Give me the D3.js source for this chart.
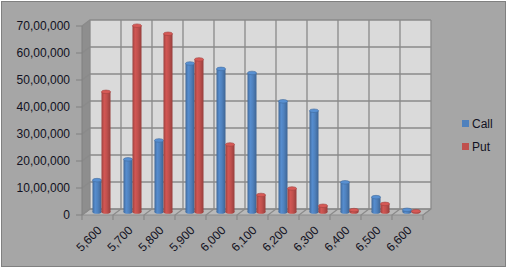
<!DOCTYPE html>
<html>
<head>
<meta charset="utf-8">
<script src="https://cdn.jsdelivr.net/npm/d3@7"></script>
<style>
  body { margin: 0; background: #ffffff; }
  svg text { font-family: "Liberation Sans", Arial, sans-serif; }
</style>
</head>
<body>
<div id="chart"></div>
<script>
// strike prices and open interest
const strikes = ["5,600", "5,700", "5,800", "5,900", "6,000", "6,100", "6,200", "6,300", "6,400", "6,500", "6,600"];
const callOI = [1180000, 1950000, 2650000, 5500000, 5300000, 5150000, 4100000, 3750000, 1100000, 550000, 80000];
const putOI = [4450000, 6900000, 6600000, 5650000, 2500000, 630000, 870000, 230000, 70000, 300000, 30000];
const seriesNames = ["Call", "Put"];
const seriesColors = ["#4f81bd", "#c0504d"];
const yTicks = [0, 1000000, 2000000, 3000000, 4000000, 5000000, 6000000, 7000000];

const width = 511, height = 270;
// 3D depth offset of back wall
const depthX = 8, depthY = -6;

// Indisk talformat: 70,00,000
function formatIN(n) {
    let s = String(Math.round(n));
    if (s.length <= 3) return s;
    let last3 = s.slice(-3);
    let rest = s.slice(0, -3);
    rest = rest.replace(/\B(?=(\d{2})+(?!\d))/g, ",");
    return rest + "," + last3;
}

const svg = d3.select("#chart")
    .append("svg")
    .attr("width", width)
    .attr("height", height);

svg.append("rect")
    .attr("x", 1.5).attr("y", 1.5)
    .attr("width", 504).attr("height", 265)
    .attr("fill", "#a6a6a6")
    .attr("stroke", "#808080");

const xScale = d3.scaleBand()
    .domain(strikes)
    .range([82, 423]);

const yScale = d3.scaleLinear()
    .domain([0, 7000000])
    .range([215, 26]);

const xInner = d3.scaleBand()
    .domain(seriesNames)
    .range([6.5, 24.5]);

const x0 = xScale.range()[0], x1 = xScale.range()[1];
const yBottom = yScale(0), yTop = yScale(7000000);

// gradients for cylinders
const defs = svg.append("defs");
seriesColors.forEach(function (c, i) {
    const g = defs.append("linearGradient")
        .attr("id", "cyl" + i)
        .attr("x1", "0").attr("x2", "1").attr("y1", "0").attr("y2", "0");
    const base = d3.color(c);
    g.append("stop").attr("offset", "0%").attr("stop-color", base.darker(0.6));
    g.append("stop").attr("offset", "30%").attr("stop-color", base.brighter(0.25));
    g.append("stop").attr("offset", "60%").attr("stop-color", base);
    g.append("stop").attr("offset", "100%").attr("stop-color", base.darker(0.7));
});

// side wall
svg.append("path")
    .attr("d", `M${x0},${yTop} L${x0 + depthX},${yTop + depthY} L${x0 + depthX},${yBottom + depthY} L${x0},${yBottom} Z`)
    .attr("fill", "#8e8e8e");

// back wall
svg.append("rect")
    .attr("x", x0 + depthX).attr("y", yTop + depthY)
    .attr("width", x1 - x0).attr("height", yBottom - yTop)
    .attr("fill", "#dadada");

// floor
svg.append("path")
    .attr("d", `M${x0},${yBottom} L${x0 + depthX},${yBottom + depthY} L${x1 + depthX},${yBottom + depthY} L${x1},${yBottom} Z`)
    .attr("fill", "#b9b9b9")
    .attr("stroke", "#8c8c8c")
    .attr("stroke-width", 1);

// horizontal gridlines (back wall + side wall)
svg.selectAll(".hgrid")
    .data(yTicks)
    .enter()
    .append("path")
    .attr("class", "hgrid")
    .attr("d", function (d) {
        const y = yScale(d);
        return `M${x0},${y} L${x0 + depthX},${y + depthY} L${x1 + depthX},${y + depthY}`;
    })
    .attr("fill", "none")
    .attr("stroke", "#8a8a8a")
    .attr("stroke-width", 1.3);

// vertical gridlines on back wall and floor
const boundaries = strikes.map(function (s) { return xScale(s); }).concat([x1]);
svg.selectAll(".vgrid")
    .data(boundaries)
    .enter()
    .append("path")
    .attr("class", "vgrid")
    .attr("d", function (d) {
        return `M${d + depthX},${yTop + depthY} L${d + depthX},${yBottom + depthY} L${d},${yBottom} L${d},${yBottom + 5}`;
    })
    .attr("fill", "none")
    .attr("stroke", "#8a8a8a")
    .attr("stroke-width", 1.3);

// y axis ticks and labels
svg.selectAll(".ytick")
    .data(yTicks)
    .enter()
    .append("line")
    .attr("x1", x0 - 6).attr("x2", x0)
    .attr("y1", function (d) { return yScale(d); })
    .attr("y2", function (d) { return yScale(d); })
    .attr("stroke", "#808080");

svg.append("line")
    .attr("x1", x0).attr("x2", x0)
    .attr("y1", yTop).attr("y2", yBottom)
    .attr("stroke", "#808080");

svg.selectAll(".ylabel")
    .data(yTicks)
    .enter()
    .append("text")
    .attr("x", 70)
    .attr("y", function (d) { return yScale(d); })
    .attr("dy", "0.36em")
    .attr("text-anchor", "end")
    .attr("font-size", "12px")
    .attr("fill", "#111122")
    .text(function (d) { return formatIN(d); });

// x labels rotated
svg.selectAll(".xlabel")
    .data(strikes)
    .enter()
    .append("text")
    .attr("transform", function (d) {
        const x = xScale(d) + xScale.bandwidth() / 2 + 5;
        return `translate(${x},${yBottom + 16}) rotate(-45)`;
    })
    .attr("text-anchor", "end")
    .attr("font-size", "12px")
    .attr("fill", "#111122")
    .text(function (d) { return d; });

// cylinders
const barData = [];
strikes.forEach(function (s, i) {
    barData.push({ cat: s, series: 0, value: callOI[i] });
    barData.push({ cat: s, series: 1, value: putOI[i] });
});

const midX = depthX / 2, midY = depthY / 2;
const bw = xInner.bandwidth();
const ry = 1.8;

const bars = svg.selectAll(".bar")
    .data(barData)
    .enter()
    .append("g")
    .attr("class", "bar")
    .attr("transform", function (d) {
        return `translate(${xScale(d.cat) + xInner(seriesNames[d.series]) + midX},${midY})`;
    });

bars.append("ellipse")
    .attr("cx", bw / 2)
    .attr("cy", yBottom)
    .attr("rx", bw / 2)
    .attr("ry", ry)
    .attr("fill", function (d) { return `url(#cyl${d.series})`; });

bars.append("rect")
    .attr("x", 0)
    .attr("width", bw)
    .attr("y", function (d) { return yScale(d.value); })
    .attr("height", function (d) { return yBottom - yScale(d.value); })
    .attr("fill", function (d) { return `url(#cyl${d.series})`; });

bars.append("ellipse")
    .attr("cx", bw / 2)
    .attr("cy", function (d) { return yScale(d.value); })
    .attr("rx", bw / 2)
    .attr("ry", ry)
    .attr("fill", function (d) { return d3.color(seriesColors[d.series]).brighter(0.3); })
    .attr("stroke", function (d) { return d3.color(seriesColors[d.series]).darker(0.5); })
    .attr("stroke-width", 0.6);

// legend
const legend = svg.selectAll(".legend")
    .data(seriesNames)
    .enter()
    .append("g")
    .attr("class", "legend")
    .attr("transform", function (d, i) { return `translate(462,${120 + i * 23})`; });

legend.append("rect")
    .attr("width", 7).attr("height", 7)
    .attr("fill", function (d, i) { return seriesColors[i]; });

legend.append("text")
    .attr("x", 10)
    .attr("y", 3.5)
    .attr("dy", "0.36em")
    .attr("font-size", "12px")
    .attr("fill", "#111122")
    .text(function (d) { return d; });
</script>
</body>
</html>
